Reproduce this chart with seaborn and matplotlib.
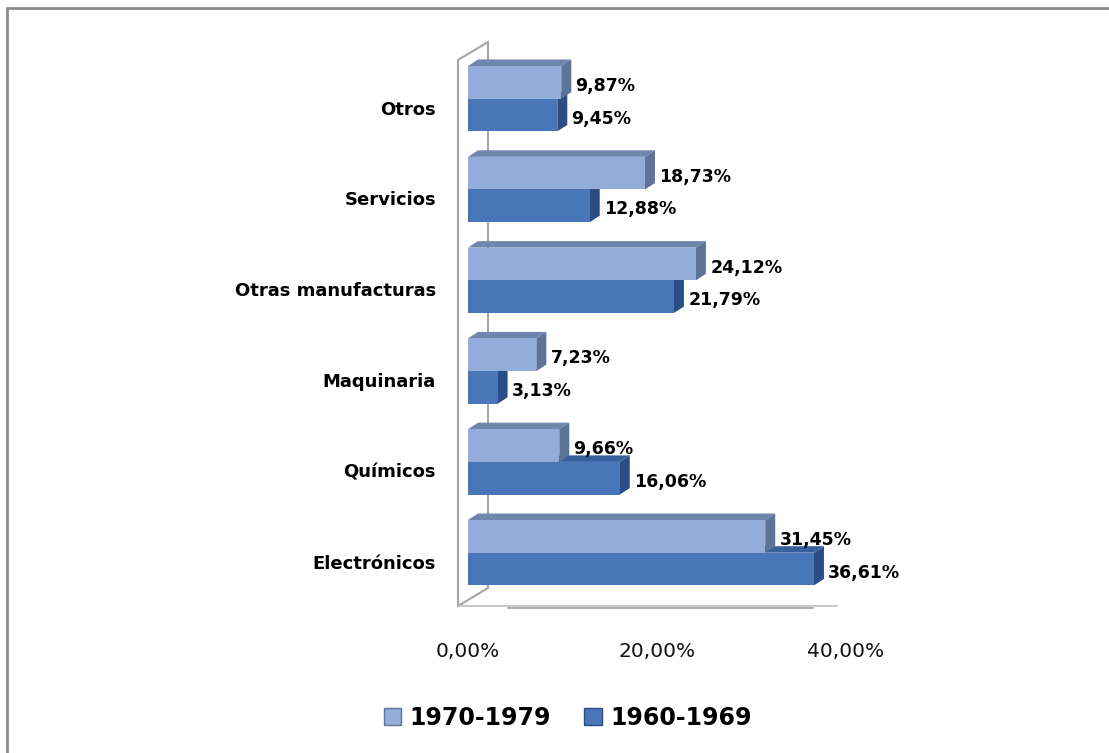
import numpy as np
import pandas as pd
import seaborn as sns
import matplotlib
matplotlib.use("Agg")
import matplotlib.pyplot as plt
from matplotlib.patches import Polygon, Patch
from matplotlib.lines import Line2D
from matplotlib.transforms import IdentityTransform, ScaledTranslation

# ---- data ----
categories = ["Otros", "Servicios", "Otras manufacturas", "Maquinaria", "Químicos", "Electrónicos"]
series_names = ["1970-1979", "1960-1969"]
values_1970 = [9.87, 18.73, 24.12, 7.23, 9.66, 31.45]
values_1960 = [9.45, 12.88, 21.79, 3.13, 16.06, 36.61]
x_ticks = [0, 20, 40]
x_tick_labels = ["0,00%", "20,00%", "40,00%"]

df = pd.DataFrame({
    "cat": categories * 2,
    "serie": [series_names[0]] * len(categories) + [series_names[1]] * len(categories),
    "val": values_1970 + values_1960,
})

front = {"1970-1979": "#93ADDA", "1960-1969": "#4876B9"}
topc = {"1970-1979": "#6E85AE", "1960-1969": "#34609C"}
sidec = {"1970-1979": "#5E7398", "1960-1969": "#294D84"}

W, H = 1109, 753
fig = plt.figure(figsize=(W / 100, H / 100), dpi=100)
sns.set_style("white")
plt.rcParams['font.family'] = ['DejaVu Sans']

# axes: 0% at x=468, 40% at x=846; y centers 99 .. 553
ax = fig.add_axes([468 / W, 1 - 609 / H, 378 / W, 566.6 / H])
ax.patch.set_alpha(0)

sns.barplot(data=df, y="cat", x="val", hue="serie", order=categories,
            hue_order=series_names, palette=front, width=0.72, orient="h",
            saturation=1, legend=False, ax=ax, linewidth=0)

ax.set_xlim(0, 40)
ax.set_ylim(5.62, -0.62)

# 3D-like faces derived from bar patches
dx = 10 / 9.45           # depth in data x-units
dy = 6.5 / 90.8          # depth in data y-units
for ci, (cont, name) in enumerate(zip(ax.containers, series_names)):
    base_z = 3 if name == "1970-1979" else 2
    vals = values_1970 if name == "1970-1979" else values_1960
    for bar, v in zip(cont.patches, vals):
        bar.set_zorder(base_z)
        x0 = bar.get_x()
        x1 = x0 + bar.get_width()
        yt = bar.get_y()
        yb = yt + bar.get_height()
        top = Polygon([(x0, yt), (x1, yt), (x1 + dx, yt - dy), (x0 + dx, yt - dy)],
                      closed=True, facecolor=topc[name], edgecolor="none",
                      zorder=base_z - 0.1, clip_on=False)
        side = Polygon([(x1, yt), (x1, yb), (x1 + dx, yb - dy), (x1 + dx, yt - dy)],
                       closed=True, facecolor=sidec[name], edgecolor="none",
                       zorder=base_z - 0.05, clip_on=False)
        ax.add_patch(top)
        ax.add_patch(side)
        lbl = f"{v:.2f}%".replace(".", ",")
        ax.text(x1 + dx + 0.45, (yt + yb) / 2 + 0.04, lbl, ha="left", va="center",
                fontsize=12.5, fontweight="bold", color="black", zorder=5,
                clip_on=False)

# axis styling
for s in ax.spines.values():
    s.set_visible(False)
ax.set_xlabel("")
ax.set_ylabel("")
ax.set_xticks(x_ticks)
ax.set_xticklabels(x_tick_labels, fontsize=14.5, color="#111111")
ax.tick_params(axis="x", length=0, pad=24)
ax.set_yticks([])
ytrans = ax.get_yaxis_transform() + ScaledTranslation(-32 / 100, -11 / 100, fig.dpi_scale_trans)
for i, c in enumerate(categories):
    ax.text(0, i, c, transform=ytrans, ha="right", va="center",
            fontsize=13, fontweight="bold", color="black")

# wall & floor decoration (display pixel coords)
def P(x, y):
    return (x, H - y)

wall = Polygon([P(458, 606), P(458, 60), P(488, 42), P(488, 588)], closed=True,
               facecolor="white", edgecolor="#A6A6A6", linewidth=1.5,
               transform=IdentityTransform(), zorder=0)
fig.add_artist(wall)
fig.add_artist(Line2D([458, 837], [H - 606, H - 606], color="#BDBDBD", linewidth=1.2,
                      transform=IdentityTransform(), zorder=0))
fig.add_artist(Line2D([508, 813], [H - 608, H - 608], color="#A0A0A0", linewidth=1.2,
                      transform=IdentityTransform(), zorder=0))
ax.set_zorder(1)

# chart border (top & left)
fig.add_artist(Line2D([7, W], [H - 8, H - 8], color="#8C8C8C", linewidth=2,
                      transform=IdentityTransform()))
fig.add_artist(Line2D([7, 7], [H - 8, 0], color="#8C8C8C", linewidth=2,
                      transform=IdentityTransform()))

# legend
handles = [Patch(facecolor=front[n], edgecolor=sidec[n], linewidth=1) for n in series_names]
leg = fig.legend(handles, series_names, loc="center", bbox_to_anchor=(567.5 / W, 1 - 718 / H),
                 ncol=2, frameon=False, handlelength=0.75, handleheight=0.75,
                 handletextpad=0.35, columnspacing=1.4,
                 prop={"size": 17, "weight": "bold"})
for t in leg.get_texts():
    t.set_color("black")

fig.savefig("out.png", dpi=100)
